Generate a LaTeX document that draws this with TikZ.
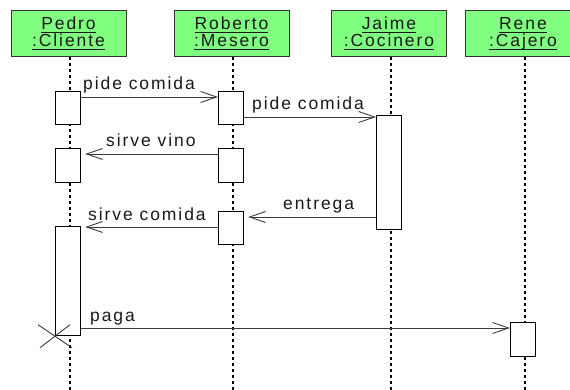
\documentclass[tikz,border=0pt]{standalone}
\usepackage{fontspec}
\setmainfont{Liberation Sans}[LetterSpace=11]
\usetikzlibrary{arrows.meta}
\definecolor{headgreen}{RGB}{128,255,128}
\definecolor{msggray}{RGB}{60,60,60}
\newcommand\ulin[1]{\setbox0\hbox{#1}\rlap{\rule[-3pt]{\wd0}{1pt}}\box0}
\begin{document}
\begin{tikzpicture}[x=1pt,y=-1pt,
  head/.style={draw=black!80, line width=1.3pt, fill=headgreen, minimum width=115pt, minimum height=46pt, inner sep=0pt, anchor=north west},
  headtxt/.style={font=\fontsize{17.5}{19}\selectfont, anchor=base, inner sep=0pt, text=black!90},
  act/.style={draw=black, line width=1.2pt, fill=white, minimum width=25pt, inner sep=0pt, anchor=north west},
  life/.style={line width=2pt, dash pattern=on 3pt off 3pt, black},
  msg/.style={line width=0.9pt, msggray, -{Straight Barb[length=16pt,width=11pt,line width=0.9pt]}},
  lbl/.style={font=\fontsize{17.5}{19}\selectfont, anchor=base west, inner sep=0pt, text=black!90},
  xmark/.style={line width=0.9pt, msggray}]
\useasboundingbox (0,0) rectangle (570,390);
\clip (0,0) rectangle (570,390);
% headers
\node[head] (hp) at (11,10) {};
\node[head] (hr) at (174,10) {};
\node[head] (hj) at (331,10) {};
\node[head] (hn) at (465,10) {};
\node[headtxt] (tp1) at (68.5,30) {\ulin{Pedro}};
\node[headtxt] (tp2) at (68.5,47) {\ulin{:Cliente}};
\node[headtxt] (tr1) at (231.5,30) {\ulin{Roberto}};
\node[headtxt] (tr2) at (231.5,47) {\ulin{:Mesero}};
\node[headtxt] (tj1) at (389,30) {\ulin{Jaime}};
\node[headtxt] (tj2) at (389,47) {\ulin{:Cocinero}};
\node[headtxt] (tn1) at (523,30) {\ulin{Rene}};
\node[headtxt] (tn2) at (523,47) {\ulin{:Cajero}};
% lifelines
\draw[life] ([xshift=0.5pt]hp.south) -- ([xshift=0.5pt]hp.south |- 0,390);
\draw[life] ([xshift=0.5pt]hr.south) -- ([xshift=0.5pt]hr.south |- 0,390);
\draw[life] ([xshift=1.5pt]hj.south) -- ([xshift=1.5pt]hj.south |- 0,390);
\draw[life] ([xshift=1.5pt]hn.south) -- ([xshift=1.5pt]hn.south |- 0,390);
% activations
\node[act, minimum height=33pt] (p1) at (55,91) {};
\node[act, minimum height=33pt] (r1) at (218,91) {};
\node[act, minimum height=34pt] (p2) at (55,148) {};
\node[act, minimum height=34pt] (r2) at (218,148) {};
\node[act, minimum height=114pt] (j1) at (376,115) {};
\node[act, minimum height=33pt] (r3) at (218,211) {};
\node[act, minimum height=109pt] (p3) at (55,226) {};
\node[act, minimum height=34pt] (n1) at (510,322) {};
% messages
\draw[msg] ([yshift=-6pt]p1.north east) -- ([yshift=-6pt]r1.north west);
\draw[msg] ([yshift=-26pt]r1.north east) -- ([yshift=-2pt]j1.north west);
\draw[msg, shorten >=4pt] ([yshift=-6pt]r2.north west) -- ([yshift=-6pt]p2.north east);
\draw[msg, shorten >=4pt] ([yshift=-102pt]j1.north west) -- ([yshift=-6pt]r3.north east);
\draw[msg, shorten >=4pt] ([yshift=-16pt]r3.north west) -- ([yshift=-1pt]p3.north east);
\draw[msg] ([yshift=-102pt]p3.north east) -- ([yshift=-6pt]n1.north west);
% labels
\node[lbl] (l1) at (83,90) {pide comida};
\node[lbl] (l2) at (252,110) {pide comida};
\node[lbl] (l3) at (106,147) {sirve vino};
\node[lbl] (l4) at (283,210) {entrega};
\node[lbl] (l5) at (88,220) {sirve comida};
\node[lbl] (l6) at (90,321) {paga};
% destruction mark
\coordinate (xm) at (p3.south west);
\draw[xmark] ([shift={(-17,-11.5)}]xm) -- ([shift={(17,11.5)}]xm);
\draw[xmark] ([shift={(-15,11.5)}]xm) -- ([shift={(15,-11.5)}]xm);
\end{tikzpicture}
\end{document}
